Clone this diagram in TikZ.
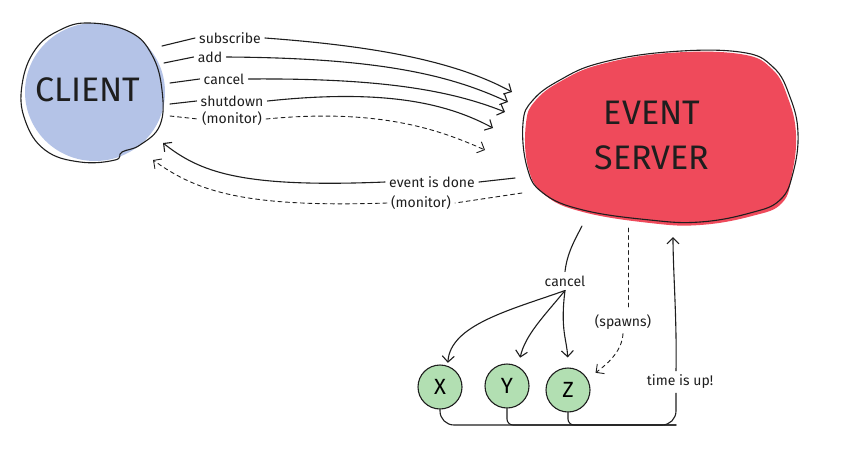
\documentclass[tikz,border=0pt]{standalone}
\usepackage{fontspec}
\setmainfont{Fira Sans}
\usetikzlibrary{arrows.meta, positioning, calc}
\definecolor{ClientBlue}{HTML}{B4C3E7}
\definecolor{ServerRed}{HTML}{EF4A5B}
\definecolor{ProcGreen}{HTML}{B2DFB2}
\definecolor{InkBlack}{HTML}{1E1E1E}
\tikzset{
  msg/.style={font=\fontsize{14}{16}\selectfont, inner sep=4pt, text=InkBlack},
  big/.style={font=\fontsize{34}{45}\selectfont, align=center, text=InkBlack},
  proc/.style={circle, draw=InkBlack, line width=1.1pt, fill=ProcGreen, minimum size=44pt, inner sep=0pt, font=\fontsize{22}{24}\selectfont},
  ink/.style={draw=InkBlack, line width=1.1pt, line cap=round},
  arrow/.style={ink, -{Straight Barb[length=6pt, width=12pt]}},
  dline/.style={ink, line width=0.9pt, dash pattern=on 4pt off 3.5pt},
  darrow/.style={arrow, line width=0.9pt, dash pattern=on 4pt off 3.5pt}
}
\begin{document}
\begin{tikzpicture}[x=1pt, y=-1pt]
\useasboundingbox (0,0) rectangle (844,459);
% client blob
\fill[ClientBlue] (95,92) ellipse (70pt and 69pt);
\draw[ink] plot[smooth cycle, tension=0.7] coordinates {(90,23) (130,32) (152,55) (162,90) (160,125) (140,145) (122,152) (115,160) (80,162) (45,150) (25,120) (22,85) (35,50) (60,30)};
\node[big] (client) at (88,90) {CLIENT};
% server blob
\fill[ServerRed] plot[smooth cycle, tension=0.7] coordinates {(526,123) (536,100) (563,80) (602,64) (668,53) (740,54) (772,69) (788,98) (796,134) (792,174) (782,203) (752,216) (700,225) (650,223) (583,212) (545,195) (528,167)};
\draw[ink] plot[smooth cycle, tension=0.7] coordinates {(523,123) (533,100) (560,80) (600,63) (667,52) (740,52) (773,67) (790,97) (798,133) (793,173) (780,200) (750,213) (700,222) (650,220) (583,210) (543,193) (527,167)};
\node[big] (server) at (652,135) {EVENT\\SERVER};
% client to server
\node[msg] (sub) at (230,38) {subscribe};
\node[msg] (add) at (210,57) {add};
\node[msg] (can) at (224,79) {cancel};
\node[msg] (shut) at (232,101) {shutdown};
\node[msg] (mon) at (232,119) {(monitor)};
\coordinate (sub0) at (162,46);
\coordinate (add0) at (164,63);
\coordinate (can0) at (170,83);
\coordinate (shut0) at (170,104);
\coordinate (mon0) at (170,116);
\coordinate (srvA) at (512,92);
\coordinate (srvB) at (508,102);
\coordinate (srvC) at (505,112);
\coordinate (srvD) at (493,128);
\coordinate (srvE) at (485,150);
\draw[ink] (sub0) -- (sub.west);
\draw[ink] (add0) -- (add.west);
\draw[ink] (can0) -- (can.west);
\draw[ink] (shut0) -- (shut.west);
\draw[dline] (mon0) -- (mon.west);
\draw[arrow] (sub.east) .. controls (360,45) and (450,58) .. (srvA);
\draw[arrow] (add.east) .. controls (380,58) and (450,75) .. (srvB);
\draw[arrow] (can.east) .. controls (380,78) and (450,90) .. (srvC);
\draw[arrow] (shut.east) .. controls (390,88) and (450,105) .. (srvD);
\draw[darrow] (mon.east) .. controls (380,108) and (440,130) .. (srvE);
% server to client
\node[msg] (done) at (432,182) {event is done};
\node[msg] (mon2) at (421,203) {(monitor)};
\coordinate (done0) at (515,178);
\coordinate (mon20) at (522,193);
\coordinate (cliA) at (163,143);
\coordinate (cliB) at (153,160);
\draw[ink] (done0) -- (done.east);
\draw[dline] (mon20) -- (mon2.east);
\draw[arrow] (done.west) .. controls (240,188) and (200,172) .. (cliA);
\draw[darrow] (mon2.west) .. controls (240,208) and (195,190) .. (cliB);
% processes
\node[proc] (x) at (440,387) {X};
\node[proc] (y) at (507,386) {Y};
\node[proc] (z) at (568,390) {Z};
\node[msg] (can2) at (565,281) {cancel};
\node[msg] (spawn) at (623,322) {(spawns)};
\node[msg] (up) at (680,382) {time is up!};
\coordinate (srvF) at (582,226);
\coordinate (srvG) at (628.5,228);
\coordinate (srvH) at (673,237);
\coordinate (bus) at (676,425);
\draw[ink] (srvF) .. controls (572,245) and (567,255) .. (can2.north);
\draw[arrow, shorten >=3pt] (can2.south) .. controls (510,310) and (450,325) .. (x.70);
\draw[arrow, shorten >=9pt] (can2.south) .. controls (545,315) and (525,335) .. (y.60);
\draw[arrow, shorten >=10pt] (can2.south) .. controls (560,330) and (567,340) .. (z.north);
\draw[dline] (srvG) -- (spawn.north -| srvG);
\draw[darrow, shorten >=10pt] (spawn.south) .. controls (622,350) and (610,362) .. (z.30);
\draw[ink, rounded corners=14pt] (x.south) |- (bus) -- (bus |- up.south);
\draw[ink, rounded corners=6pt] (y.south) |- (bus);
\draw[ink, rounded corners=6pt] (z.south) |- (bus);
\draw[arrow] (bus |- up.north) .. controls (677,320) and (673,270) .. (srvH);
\end{tikzpicture}
\end{document}
